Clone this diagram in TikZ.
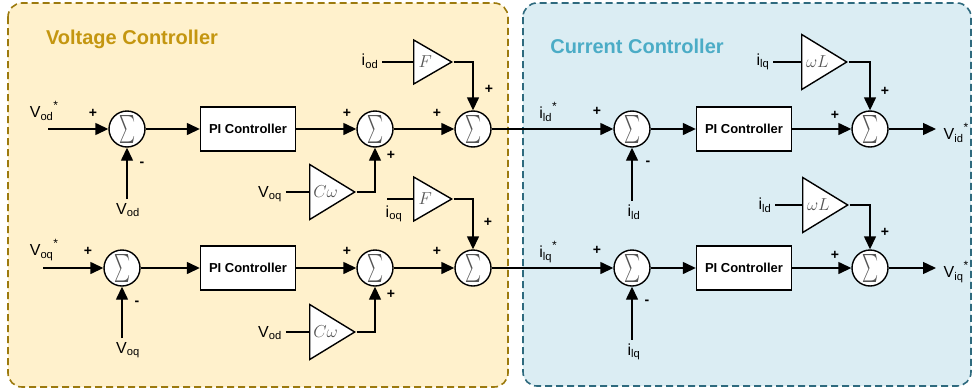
\documentclass[tikz,border=0pt]{standalone}
\usepackage{amsmath}
\usepackage{graphicx}
\usepackage{fontspec}
\setmainfont{Liberation Sans}
\usepackage{xcolor}
\usepackage{tikz}
\usetikzlibrary{arrows.meta,shapes.geometric}
\definecolor{vfill}{RGB}{255,241,204}
\definecolor{vline}{RGB}{156,122,14}
\definecolor{vtitle}{RGB}{196,150,16}
\definecolor{cfill}{RGB}{219,237,243}
\definecolor{cline}{RGB}{46,106,126}
\definecolor{ctitle}{RGB}{75,172,198}
\definecolor{gain}{RGB}{85,85,85}
\newcommand{\sig}[2]{#1\textsubscript{#2}}
\newcommand{\sigref}[2]{#1\textsubscript{#2}\raisebox{8pt}{\fontsize{12}{12}\selectfont *}}
\newcommand{\sumsym}{\resizebox{16pt}{21pt}{$\sum$}}
\tikzset{every node/.append style={font=\fontsize{16}{18}\selectfont}}

\begin{document}
\begin{tikzpicture}[x=1pt, y=-1pt, >={Triangle[length=13pt, width=12pt]}, line width=1.4pt,
    sum/.style={circle, draw, fill=white, minimum size=36pt, inner sep=0pt, text=gain},
    pibox/.style={draw, fill=white, minimum width=95pt, minimum height=44pt, inner sep=0pt,
      font=\fontsize{13}{15}\selectfont\bfseries},
    gainbox/.style={isosceles triangle, isosceles triangle stretches, draw, fill=white,
      inner sep=0pt, anchor=west, text=gain, font=\fontsize{17}{18}\selectfont},
    fgain/.style={gainbox, minimum width=44pt, minimum height=38pt},
    cwgain/.style={gainbox, minimum width=55pt, minimum height=45pt},
    wlgain/.style={gainbox, minimum width=55pt, minimum height=45pt},
    sgn/.style={inner sep=0pt, font=\fontsize{14}{14}\selectfont\bfseries},
    area/.style={rounded corners=14pt, dash pattern=on 7pt off 4pt, line width=1.6pt},
    title/.style={font=\fontsize{20}{22}\selectfont\bfseries}]
    \useasboundingbox (0,0) rectangle (974,391);
    % the two controllers
    \draw[area, draw=vline, fill=vfill] (8,3) rectangle (508,387);
    \draw[area, draw=cline, fill=cfill] (523,3) rectangle (971,386);
    \node[title, text=vtitle] (vtit) at (132,39) {Voltage Controller};
    \node[title, text=ctitle] (ctit) at (637,46) {Current Controller};

    % voltage controller, d axis
    \coordinate (vodsin) at (48,129);
    \node (vods) at (44,111) {\sigref{V}{od}};
    \node[sum] (s1) at (127,129) {\sumsym};
    \node (vod) at (128,210) {\sig{V}{od}};
    \node[pibox] (pi1) at (248,129) {PI Controller};
    \node[sum] (s2) at (375,129) {\sumsym};
    \node[sum] (s3) at (473,129) {\sumsym};
    \node (iod) at (370,61) {\sig{i}{od}};
    \node[fgain] (f1) at (413,62) {$F$};
    \node (voq1) at (270,194) {\sig{V}{oq}};
    \node[cwgain] (cw1) at (309,192) {$C\omega$};
    \draw[->] (vodsin) -- (s1);
    \draw[->] (s1 |- vod.north) -- (s1);
    \draw[->] (s1) -- (pi1);
    \draw[->] (pi1) -- (s2);
    \draw[->] (s2) -- (s3);
    \draw (iod.east |- f1.west) -- (f1.west);
    \draw[->] (f1.apex) -| (s3);
    \draw (voq1.east |- cw1.west) -- (cw1.west);
    \draw[->] (cw1.apex) -| (s2);

    % voltage controller, q axis
    \coordinate (voqsin) at (43,268);
    \node (voqs) at (44,250) {\sigref{V}{oq}};
    \node[sum] (s6) at (122,268) {\sumsym};
    \node (voq) at (128,350) {\sig{V}{oq}};
    \node[pibox] (pi3) at (248,268) {PI Controller};
    \node[sum] (s7) at (375,268) {\sumsym};
    \node[sum] (s8) at (473,268) {\sumsym};
    \coordinate (ioqin) at (387,199);
    \node (ioq) at (394,214) {\sig{i}{oq}};
    \node[fgain] (f2) at (413,199) {$F$};
    \node (vod2) at (270,333) {\sig{V}{od}};
    \node[cwgain] (cw2) at (309,332) {$C\omega$};
    \draw[->] (voqsin) -- (s6);
    \draw[->] (s6 |- voq.north) -- (s6);
    \draw[->] (s6) -- (pi3);
    \draw[->] (pi3) -- (s7);
    \draw[->] (s7) -- (s8);
    \draw (ioqin) -- (f2.west);
    \draw[->] (f2.apex) -| (s8);
    \draw (vod2.east |- cw2.west) -- (cw2.west);
    \draw[->] (cw2.apex) -| (s7);

    % current controller, d axis
    \node (ildref) at (548,112) {\sigref{i}{ld}};
    \node[sum] (s4) at (632,129) {\sumsym};
    \node (ild) at (634,212) {\sig{i}{ld}};
    \node[pibox] (pi2) at (744,129) {PI Controller};
    \node[sum] (s5) at (870,129) {\sumsym};
    \node (ilq1) at (763,62) {\sig{i}{lq}};
    \node[wlgain] (wl1) at (801,62) {$\omega L$};
    \coordinate (vidout) at (936,129);
    \node (vid) at (956,133) {\sigref{V}{id}};
    \draw[->] (s3) -- (s4);
    \draw[->] (s4 |- ild.north) -- (s4);
    \draw[->] (s4) -- (pi2);
    \draw[->] (pi2) -- (s5);
    \draw (ilq1.east |- wl1.west) -- (wl1.west);
    \draw[->] (wl1.apex) -| (s5);
    \draw[->] (s5) -- (vidout);

    % current controller, q axis
    \node (ilqref) at (548,252) {\sigref{i}{lq}};
    \node[sum] (s9) at (632,268) {\sumsym};
    \node (ilq) at (634,352) {\sig{i}{lq}};
    \node[pibox] (pi4) at (744,268) {PI Controller};
    \node[sum] (s10) at (870,268) {\sumsym};
    \node (ild2) at (765,205) {\sig{i}{ld}};
    \node[wlgain] (wl2) at (802,205) {$\omega L$};
    \coordinate (viqout) at (936,268);
    \node (viq) at (956,272) {\sigref{V}{iq}};
    \draw[->] (s8) -- (s9);
    \draw[->] (s9 |- ilq.north) -- (s9);
    \draw[->] (s9) -- (pi4);
    \draw[->] (pi4) -- (s10);
    \draw (ild2.east |- wl2.west) -- (wl2.west);
    \draw[->] (wl2.apex) -| (s10);
    \draw[->] (s10) -- (viqout);

    % signs at the summing points
    \foreach \x/\y/\s [count=\k] in {93/113/+, 142/164/-, 347/113/+, 391/155/+, 437/113/+,
        489/89/+, 597/111/+, 648/163/-, 835/115/+, 885/91/+,
        88/251/+, 137/303/-, 347/251/+, 391/294/+, 437/251/+, 488/222/+,
        597/250/+, 647/302/-, 835/255/+, 885/232/+}
      \node[sgn] (sg\k) at (\x,\y) {\s};
\end{tikzpicture}
\end{document}
